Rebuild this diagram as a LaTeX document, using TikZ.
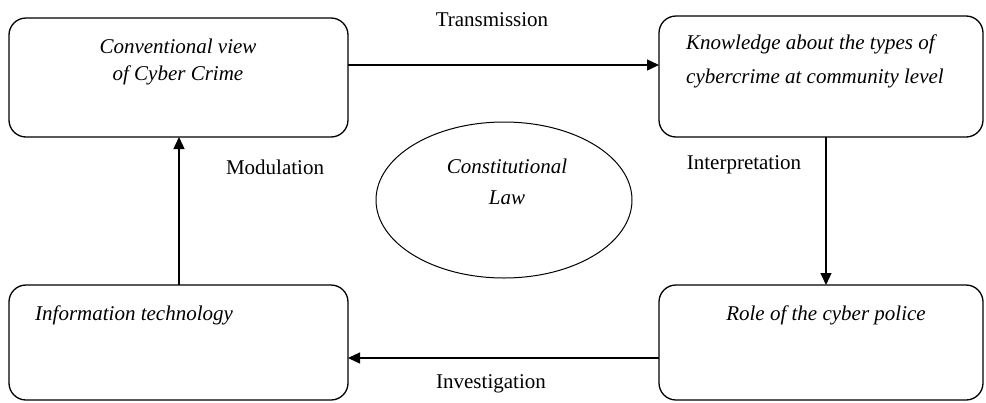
\documentclass[tikz,border=0pt]{standalone}
\usepackage{fontspec}
\setmainfont{Liberation Serif}
\usetikzlibrary{arrows.meta,shapes.geometric}
\begin{document}
\begin{tikzpicture}[x=1pt,y=-1pt,
  box/.style={draw,line width=1.3pt,rounded corners=17pt},
  lbl/.style={font=\fontsize{21}{27}\selectfont\itshape,align=center,inner sep=0pt},
  tag/.style={font=\fontsize{21}{25}\selectfont,inner sep=0pt},
  conn/.style={line width=1.3pt,-{Triangle[length=12pt,width=11pt]}}]
\useasboundingbox (0,0) rectangle (986,402);
\draw[box] (9,18) rectangle (348,137);
\draw[box] (659,16) rectangle (983,137);
\draw[box] (9,285) rectangle (348,400);
\draw[box] (659,285) rectangle (983,400);
\coordinate (b1r) at (348,65); \coordinate (b2l) at (659,65);
\coordinate (b2b) at (826,137); \coordinate (b4t) at (826,285);
\coordinate (b4l) at (659,358); \coordinate (b3r) at (348,358);
\coordinate (b3t) at (179,285); \coordinate (b1b) at (179,137);
\node[lbl] (t1) at (178,62) {Conventional view\\of Cyber Crime};
\node[lbl,align=left,anchor=west,font=\fontsize{21}{34}\selectfont\itshape] (t2) at (686,61) {Knowledge about the types of\\cybercrime at community level};
\node[lbl,anchor=west] (t3) at (35,315) {Information technology};
\node[lbl] (t4) at (826,315) {Role of the cyber police};
\node[draw,line width=1pt,ellipse,minimum width=256pt,minimum height=156pt] (law) at (504,200) {};
\node[lbl,font=\fontsize{21}{31}\selectfont\itshape] (lawt) at (507,182) {Constitutional\\Law};
\draw[conn] (b1r) -- (b2l);
\draw[conn] (b2b) -- (b4t);
\draw[conn] (b4l) -- (b3r);
\draw[conn] (b3t) -- (b1b);
\node[tag] (l1) at (492,20) {Transmission};
\node[tag] (l2) at (744,165) {Interpretation};
\node[tag] (l3) at (491,384) {Investigation};
\node[tag] (l4) at (275,167) {Modulation};
\end{tikzpicture}
\end{document}
